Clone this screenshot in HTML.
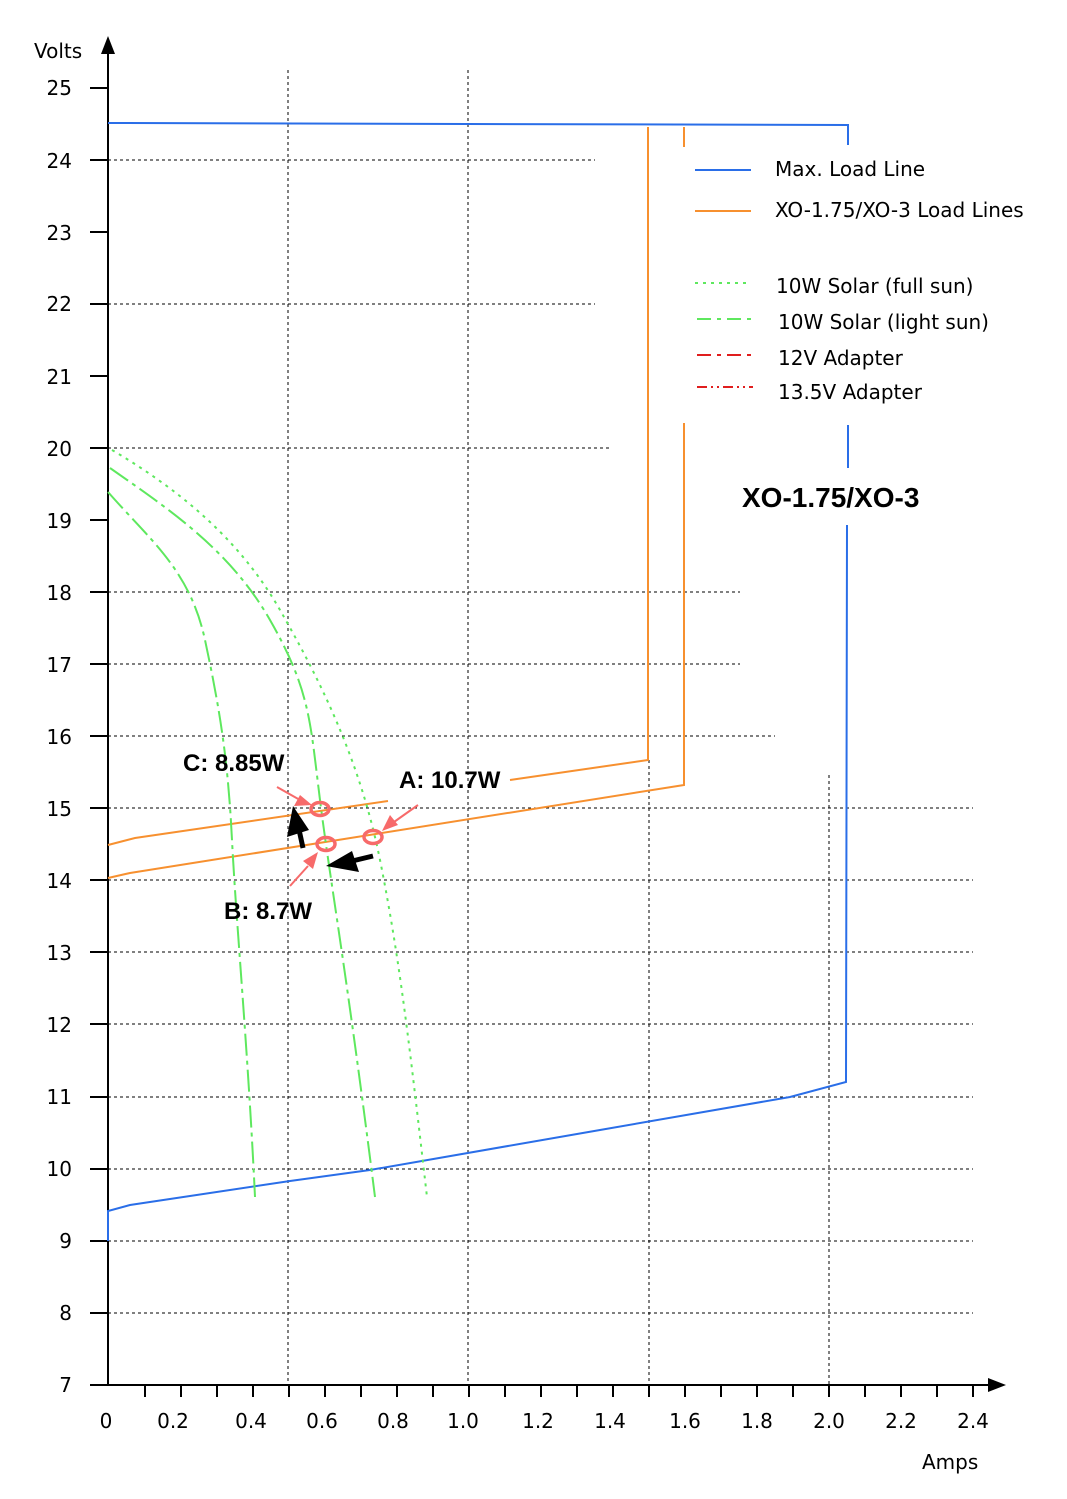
<!DOCTYPE html>
<html><head><meta charset="utf-8"><style>
html,body{margin:0;padding:0;background:#fff}
svg{display:block}
text{font-family:"DejaVu Sans","Liberation Sans",sans-serif;font-size:20px;fill:#000}
.b{font-family:"Liberation Sans",sans-serif;font-weight:bold;font-size:24px}
</style></head><body>
<svg width="1067" height="1499" viewBox="0 0 1067 1499" xmlns="http://www.w3.org/2000/svg">
<g stroke="#000" stroke-width="1" stroke-dasharray="3,3" fill="none">
<line x1="108" y1="160" x2="595" y2="160"/>
<line x1="108" y1="304" x2="595" y2="304"/>
<line x1="108" y1="448" x2="612" y2="448"/>
<line x1="108" y1="592" x2="740" y2="592"/>
<line x1="108" y1="664" x2="740" y2="664"/>
<line x1="108" y1="736" x2="775" y2="736"/>
<line x1="108" y1="808" x2="973" y2="808"/>
<line x1="108" y1="880" x2="973" y2="880"/>
<line x1="108" y1="952" x2="973" y2="952"/>
<line x1="108" y1="1024" x2="973" y2="1024"/>
<line x1="108" y1="1097" x2="973" y2="1097"/>
<line x1="108" y1="1169" x2="973" y2="1169"/>
<line x1="108" y1="1241" x2="973" y2="1241"/>
<line x1="108" y1="1313" x2="973" y2="1313"/>
<line x1="288" y1="70" x2="288" y2="1385"/>
<line x1="468" y1="70" x2="468" y2="1385"/>
<line x1="649" y1="760" x2="649" y2="1385"/>
<line x1="829" y1="775" x2="829" y2="1385"/>
</g>
<g stroke="#000" stroke-width="2" fill="none">
<line x1="108" y1="50" x2="108" y2="1385"/>
<line x1="108" y1="1385" x2="995" y2="1385"/>
<path d="M90 88H108M90 160H108M90 232H108M90 304H108M90 376H108M90 448H108M90 520H108M90 592H108M90 664H108M90 736H108M90 808H108M90 880H108M90 952H108M90 1024H108M90 1097H108M90 1169H108M90 1241H108M90 1313H108M90 1385H108"/>
<path d="M145 1385V1397M181 1385V1397M217 1385V1397M253 1385V1397M289 1385V1397M325 1385V1397M361 1385V1397M397 1385V1397M433 1385V1397M469 1385V1397M505 1385V1397M541 1385V1397M577 1385V1397M613 1385V1397M649 1385V1397M685 1385V1397M721 1385V1397M757 1385V1397M793 1385V1397M829 1385V1397M865 1385V1397M901 1385V1397M937 1385V1397M973 1385V1397"/>
</g>
<polygon points="108,36 101,54 115,54" fill="#000"/>
<polygon points="1006,1385 988,1378 988,1392" fill="#000"/>
<g text-anchor="end">
<text x="72" y="95">25</text><text x="72" y="168">24</text><text x="72" y="240">23</text><text x="72" y="311">22</text><text x="72" y="384">21</text><text x="72" y="456">20</text><text x="72" y="528">19</text><text x="72" y="600">18</text><text x="72" y="672">17</text><text x="72" y="744">16</text><text x="72" y="816">15</text><text x="72" y="888">14</text><text x="72" y="960">13</text><text x="72" y="1032">12</text><text x="72" y="1104">11</text><text x="72" y="1176">10</text><text x="72" y="1248">9</text><text x="72" y="1320">8</text><text x="72" y="1392">7</text>
</g>
<text x="34" y="58">Volts</text>
<g text-anchor="middle">
<text x="106" y="1428">0</text><text x="173" y="1428">0.2</text><text x="251" y="1428">0.4</text><text x="322" y="1428">0.6</text><text x="393" y="1428">0.8</text><text x="463" y="1428">1.0</text><text x="538" y="1428">1.2</text><text x="610" y="1428">1.4</text><text x="685" y="1428">1.6</text><text x="757" y="1428">1.8</text><text x="829" y="1428">2.0</text><text x="901" y="1428">2.2</text><text x="973" y="1428">2.4</text>
</g>
<text x="922" y="1469">Amps</text>
<g stroke="#2a6ee8" stroke-width="2" fill="none">
<polyline points="108,123 848,125 848,145"/>
<line x1="848" y1="425" x2="848" y2="468"/>
<polyline points="847,525 846,1082 790,1097 600,1130 370,1170 290,1181 130,1205 108,1211 108,1241"/>
</g>
<g stroke="#f7902f" stroke-width="2" fill="none">
<polyline points="510,780 648,760 648,127"/>
<polyline points="108,845 135,838 388,801"/>
<polyline points="108,878 130,873 684,785 684,423"/>
<line x1="684" y1="127" x2="684" y2="147"/>
</g>
<g stroke="#5ee85e" stroke-width="2" fill="none">
<path d="M112,450 C180,490 240,540 280,610 S360,760 380,860 S410,1050 427,1197" stroke-dasharray="3,5"/>
<path d="M110,468 C170,510 230,550 270,620 S310,720 320,800 S345,960 375,1197" stroke-dasharray="22,5,4,5"/>
<path d="M108,492 C150,540 190,570 205,640 S228,760 232,840 S248,1050 255,1197" stroke-dasharray="22,5,4,5"/>
</g>
<line x1="695" y1="170" x2="751" y2="170" stroke="#2a6ee8" stroke-width="2"/>
<line x1="695" y1="211" x2="751" y2="211" stroke="#f7902f" stroke-width="2"/>
<line x1="695" y1="283" x2="751" y2="283" stroke="#5ee85e" stroke-width="2" stroke-dasharray="3,5"/>
<line x1="697" y1="319" x2="753" y2="319" stroke="#5ee85e" stroke-width="2" stroke-dasharray="14,6,4,6"/>
<line x1="697" y1="355" x2="753" y2="355" stroke="#e01e1e" stroke-width="2" stroke-dasharray="14,6,4,6"/>
<line x1="697" y1="387" x2="753" y2="387" stroke="#e01e1e" stroke-width="2" stroke-dasharray="10,4,2,4,2,4"/>
<text x="775" y="176">Max. Load Line</text>
<text x="775" y="217">XO-1.75/XO-3 Load Lines</text>
<text x="776" y="293">10W Solar (full sun)</text>
<text x="778" y="329">10W Solar (light sun)</text>
<text x="778" y="365">12V Adapter</text>
<text x="778" y="399">13.5V Adapter</text>
<text x="742" y="507" class="b" style="font-size:28px">XO-1.75/XO-3</text>
<text x="183" y="771" class="b">C: 8.85W</text>
<text x="399" y="788" class="b">A: 10.7W</text>
<text x="224" y="919" class="b">B: 8.7W</text>
<g stroke="#f76a6a" stroke-width="3.5" fill="none">
<ellipse cx="320" cy="809" rx="9" ry="6.5"/>
<ellipse cx="326" cy="844" rx="9" ry="6.5"/>
<ellipse cx="373" cy="837" rx="9" ry="6.5"/>
</g>
<g stroke="#f76a6a" stroke-width="2">
<line x1="277" y1="787" x2="300" y2="800"/>
<line x1="418" y1="805" x2="394" y2="822"/>
<line x1="290" y1="886" x2="308" y2="866"/>
</g>
<g fill="#f76a6a">
<polygon points="312,805 294,806 300,795"/>
<polygon points="382,831 390,815 398,825"/>
<polygon points="318,852 313,869 303,861"/>
</g>
<g stroke="#000" stroke-width="5">
<line x1="303" y1="848" x2="298" y2="825"/>
<line x1="373" y1="856" x2="348" y2="862"/>
</g>
<polygon points="293,806 287,837 309,830" fill="#000"/>
<polygon points="326,866 352,851 359,872" fill="#000"/>
</svg>
</body></html>
